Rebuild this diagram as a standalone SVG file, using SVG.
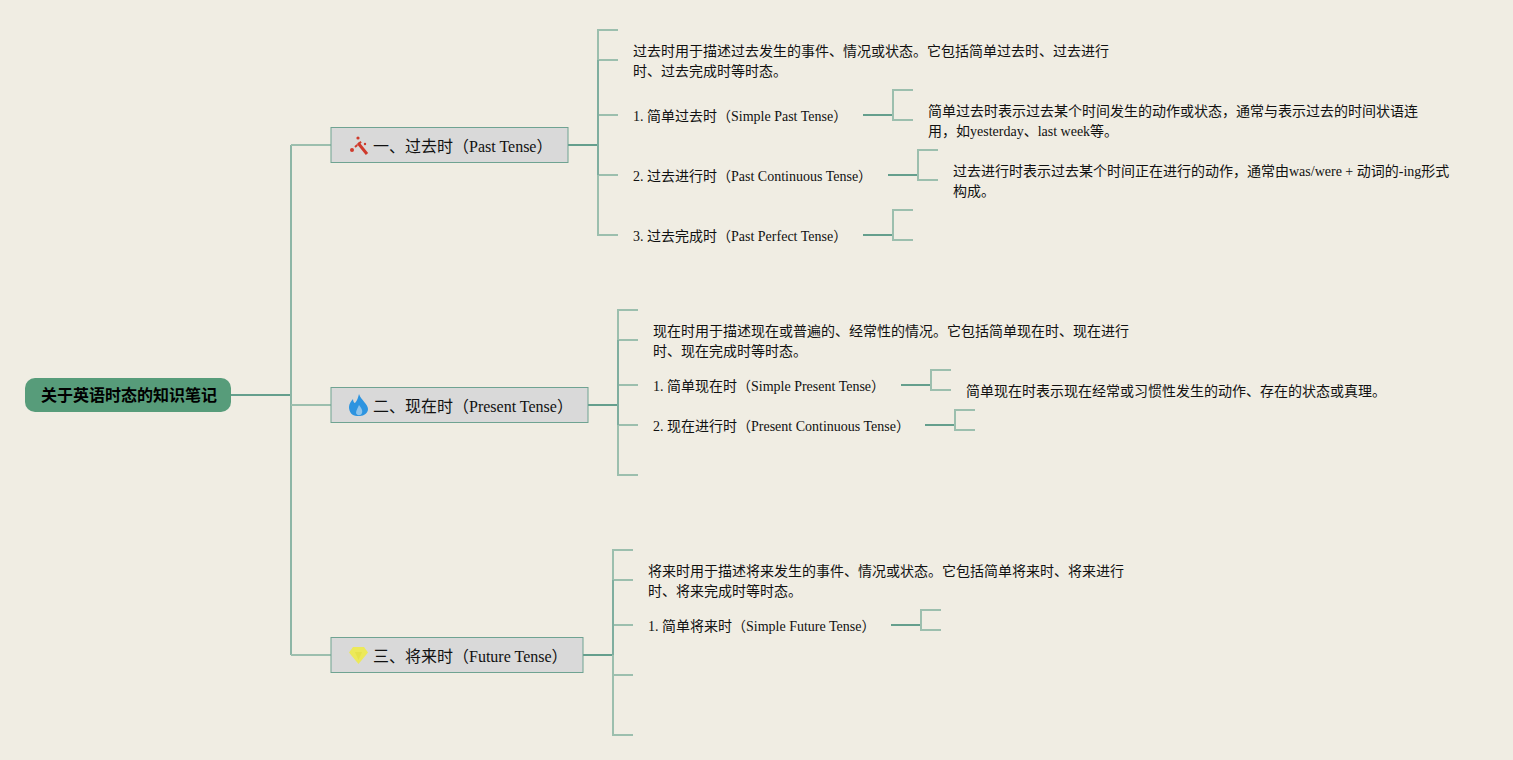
<svg xmlns="http://www.w3.org/2000/svg" width="1513" height="760" viewBox="0 0 1513 760">
<style>
text{font-family:"Liberation Serif","Noto Sans CJK SC",serif;fill:#111;font-size:14px}
.b{font-size:16px}
.r{font-size:16px;font-weight:bold;fill:#000}
.box{fill:#d9d9d9;stroke:#6fa392;stroke-width:1}
.l{fill:none;stroke:#9cbfae;stroke-width:2}
.t{fill:none;stroke:#8db6a6;stroke-width:2}
.m{fill:none;stroke:#7fae9f;stroke-width:2}
.d{fill:none;stroke:#659f8d;stroke-width:2}
</style>
<rect width="1513" height="760" fill="#f0ede3"/>
<g id="connectors">
<path class="d" d="M231 395H291"/>
<path class="t" d="M291 145V655"/>
<path class="l" d="M331 145H291M331 655H291M291 405H331"/>
<path class="d" d="M568 145H598"/>
<path class="l" d="M618 30H598V235H618M598 60H618M598 115H618M598 175H618"/>
<path class="m" d="M598 60V175"/>
<path class="d" d="M863 115H893"/><path class="l" d="M913 90H893V120H913"/>
<path class="d" d="M888 175H918"/><path class="l" d="M938 150H918V180H938"/>
<path class="d" d="M863 235H893"/><path class="l" d="M913 210H893V240H913"/>
<path class="d" d="M588 405H618"/>
<path class="l" d="M638 310H618V475H638M618 340H638M618 385H638M618 425H638"/>
<path class="m" d="M618 340V425"/>
<path class="d" d="M901 385H931"/><path class="l" d="M951 370H931V390H951"/>
<path class="d" d="M925 425H955"/><path class="l" d="M975 410H955V430H975"/>
<path class="d" d="M583 655H613"/>
<path class="l" d="M633 550H613V735H633M613 580H633M613 625H633M613 675H633"/>
<path class="m" d="M613 580V655"/>
<path class="d" d="M891 625H921"/><path class="l" d="M941 610H921V630H941"/>
</g>
<g id="root"><rect x="25" y="378" width="206" height="34" rx="10" fill="#579c7a"/><text class="r" x="41" y="401">关于英语时态的知识笔记</text></g>
<g id="n1"><rect class="box" x="331" y="127.500" width="237" height="35"/>
<path d="M358 143L367 154" stroke="#cf3a2c" stroke-width="3" fill="none"/><path d="M355 147L362 141" stroke="#cf3a2c" stroke-width="2" stroke-dasharray="3 2" fill="none"/><circle cx="352" cy="150" r="2" fill="#cf3a2c"/><circle cx="358" cy="138" r="1.600" fill="#cf3a2c"/><circle cx="365" cy="144" r="1.200" fill="#cf3a2c"/>
<text class="b" x="373" y="152">一、过去时（Past Tense）</text></g>
<g id="n2"><rect class="box" x="331" y="387.500" width="257" height="35"/>
<path d="M359 394C361 400 368 404 368 409C368 413 364 416 360 416H357C352 416 349 412 349 407C349 404 351 401 353 399C353 401 354 403 355 403C357 401 358 398 359 394Z" fill="#2d94e0"/><path d="M359 405C361 408 363 410 362 413C361 416 357 416 356 413C356 410 358 408 359 405Z" fill="#8ec3ea"/>
<text class="b" x="373" y="412">二、现在时（Present Tense）</text></g>
<g id="n3"><rect class="box" x="331" y="637.500" width="252" height="35"/>
<path d="M353 647H364L368 652.500L358.500 664L349 652.500Z" fill="#ece95a"/><path d="M355 652H362L358.500 660Z" fill="#e6e24c"/>
<text class="b" x="373" y="662">三、将来时（Future Tense）</text></g>
<g id="t1"><text x="633" y="56">过去时用于描述过去发生的事件、情况或状态。它包括简单过去时、过去进行</text><text x="633" y="76">时、过去完成时等时态。</text></g>
<g id="t2"><text x="633" y="121">1. 简单过去时（Simple Past Tense）</text></g>
<g id="t3"><text x="928" y="116">简单过去时表示过去某个时间发生的动作或状态，通常与表示过去的时间状语连</text><text x="928" y="136">用，如yesterday、last week等。</text></g>
<g id="t4"><text x="633" y="181">2. 过去进行时（Past Continuous Tense）</text></g>
<g id="t5"><text x="953" y="176">过去进行时表示过去某个时间正在进行的动作，通常由was/were + 动词的-ing形式</text><text x="953" y="196">构成。</text></g>
<g id="t6"><text x="633" y="241">3. 过去完成时（Past Perfect Tense）</text></g>
<g id="t7"><text x="653" y="336">现在时用于描述现在或普遍的、经常性的情况。它包括简单现在时、现在进行</text><text x="653" y="356">时、现在完成时等时态。</text></g>
<g id="t8"><text x="653" y="391">1. 简单现在时（Simple Present Tense）</text></g>
<g id="t9"><text x="966" y="396">简单现在时表示现在经常或习惯性发生的动作、存在的状态或真理。</text></g>
<g id="t10"><text x="653" y="431">2. 现在进行时（Present Continuous Tense）</text></g>
<g id="t11"><text x="648" y="576">将来时用于描述将来发生的事件、情况或状态。它包括简单将来时、将来进行</text><text x="648" y="596">时、将来完成时等时态。</text></g>
<g id="t12"><text x="648" y="631">1. 简单将来时（Simple Future Tense）</text></g>
</svg>
